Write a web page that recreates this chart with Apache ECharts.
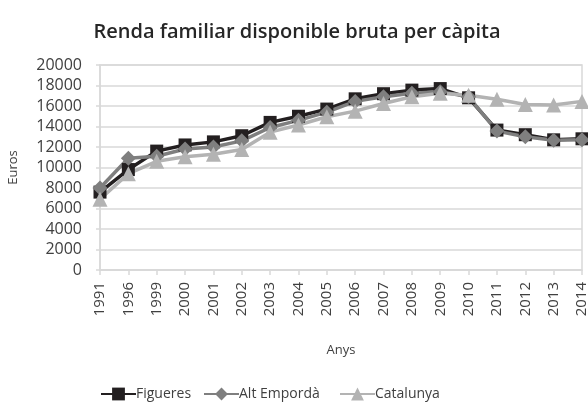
<!DOCTYPE html>
<html>
<head>
<meta charset="utf-8">
<script src="https://cdn.jsdelivr.net/npm/echarts@6/dist/echarts.min.js"></script>
<style>
html,body{margin:0;padding:0;background:#fff;}
#chart{width:588px;height:403px;}
</style>
</head>
<body>
<div id="chart"></div>
<script>
var years = ['1991','1996','1999','2000','2001','2002','2003','2004','2005','2006','2007','2008','2009','2010','2011','2012','2013','2014'];
var figueres   = [7600, 9800, 11600, 12200, 12500, 13100, 14400, 15000, 15700, 16700, 17200, 17550, 17700, 16800, 13650, 13200, 12700, 12800];
var altEmporda = [8000, 10900, 11100, 11800, 12000, 12600, 13900, 14600, 15400, 16450, 16900, 17250, 17400, 16900, 13550, 13000, 12650, 12700];
var catalunya  = [6900, 9400, 10600, 11050, 11300, 11750, 13450, 14150, 14950, 15500, 16250, 16900, 17250, 17050, 16650, 16150, 16100, 16450];
var seriesNames = ['Figueres', 'Alt Empordà', 'Catalunya'];
var yTicks = {min: 0, max: 20000, interval: 2000};

var chart = echarts.init(document.getElementById('chart'), null, {renderer: 'canvas'});
var font = '"Open Sans", sans-serif';
function series(name, data, color, symbol, size) {
  return {
    name: name, type: 'line', data: data,
    symbol: symbol, symbolSize: size,
    lineStyle: {color: color, width: 3.5},
    itemStyle: {color: color},
    emphasis: {disabled: true},
    animation: false
  };
}
function legend(name, left) {
  return {
    left: left, top: 382,
    itemWidth: 35, itemHeight: 16,
    textStyle: {fontFamily: font, fontSize: 14, color: '#404040', padding: [0,0,0,-5]},
    data: [name]
  };
}
chart.setOption({
  animation: false,
  title: {
    text: 'Renda familiar disponible bruta per càpita',
    left: 292, top: 17, textAlign: 'center',
    textStyle: {fontFamily: font, fontSize: 20, fontWeight: 600, color: '#262626'}
  },
  legend: [legend(seriesNames[0], 95), legend(seriesNames[1], 198), legend(seriesNames[2], 334)],
  grid: {left: 100, right: 6, top: 65, bottom: 133, show: true, borderColor: '#d9d9d9', borderWidth: 1.5, containLabel: false, outerBoundsMode: 'none'},
  xAxis: {
    type: 'category', data: years, boundaryGap: false,
    name: 'Anys', nameLocation: 'middle', nameGap: 74,
    nameTextStyle: {fontFamily: font, fontSize: 13, color: '#404040'},
    axisLine: {lineStyle: {color: '#d9d9d9', width: 1.5}},
    axisTick: {show: true, interval: 0, length: 5, lineStyle: {color: '#d9d9d9', width: 1.5}},
    axisLabel: {interval: 0, rotate: 90, fontFamily: font, fontSize: 15, color: '#404040', margin: 12},
    splitLine: {show: false}
  },
  yAxis: {
    type: 'value', min: yTicks.min, max: yTicks.max, interval: yTicks.interval,
    name: 'Euros', nameLocation: 'middle', nameGap: 80, nameRotate: 90,
    nameTextStyle: {fontFamily: font, fontSize: 13, color: '#404040'},
    axisLine: {show: true, lineStyle: {color: '#d9d9d9', width: 1.5}},
    axisTick: {show: true, length: 4, lineStyle: {color: '#d9d9d9', width: 1.5}},
    axisLabel: {fontFamily: font, fontSize: 16, color: '#404040', margin: 18, formatter: function (v) { return String(v); }},
    splitLine: {show: true, lineStyle: {color: '#d9d9d9', width: 1.5}}
  },
  series: [
    series(seriesNames[0], figueres, '#231f20', 'rect', 13),
    series(seriesNames[1], altEmporda, '#7f7f7f', 'diamond', 15),
    series(seriesNames[2], catalunya, '#b3b3b3', 'triangle', 15)
  ]
});
</script>
</body>
</html>
